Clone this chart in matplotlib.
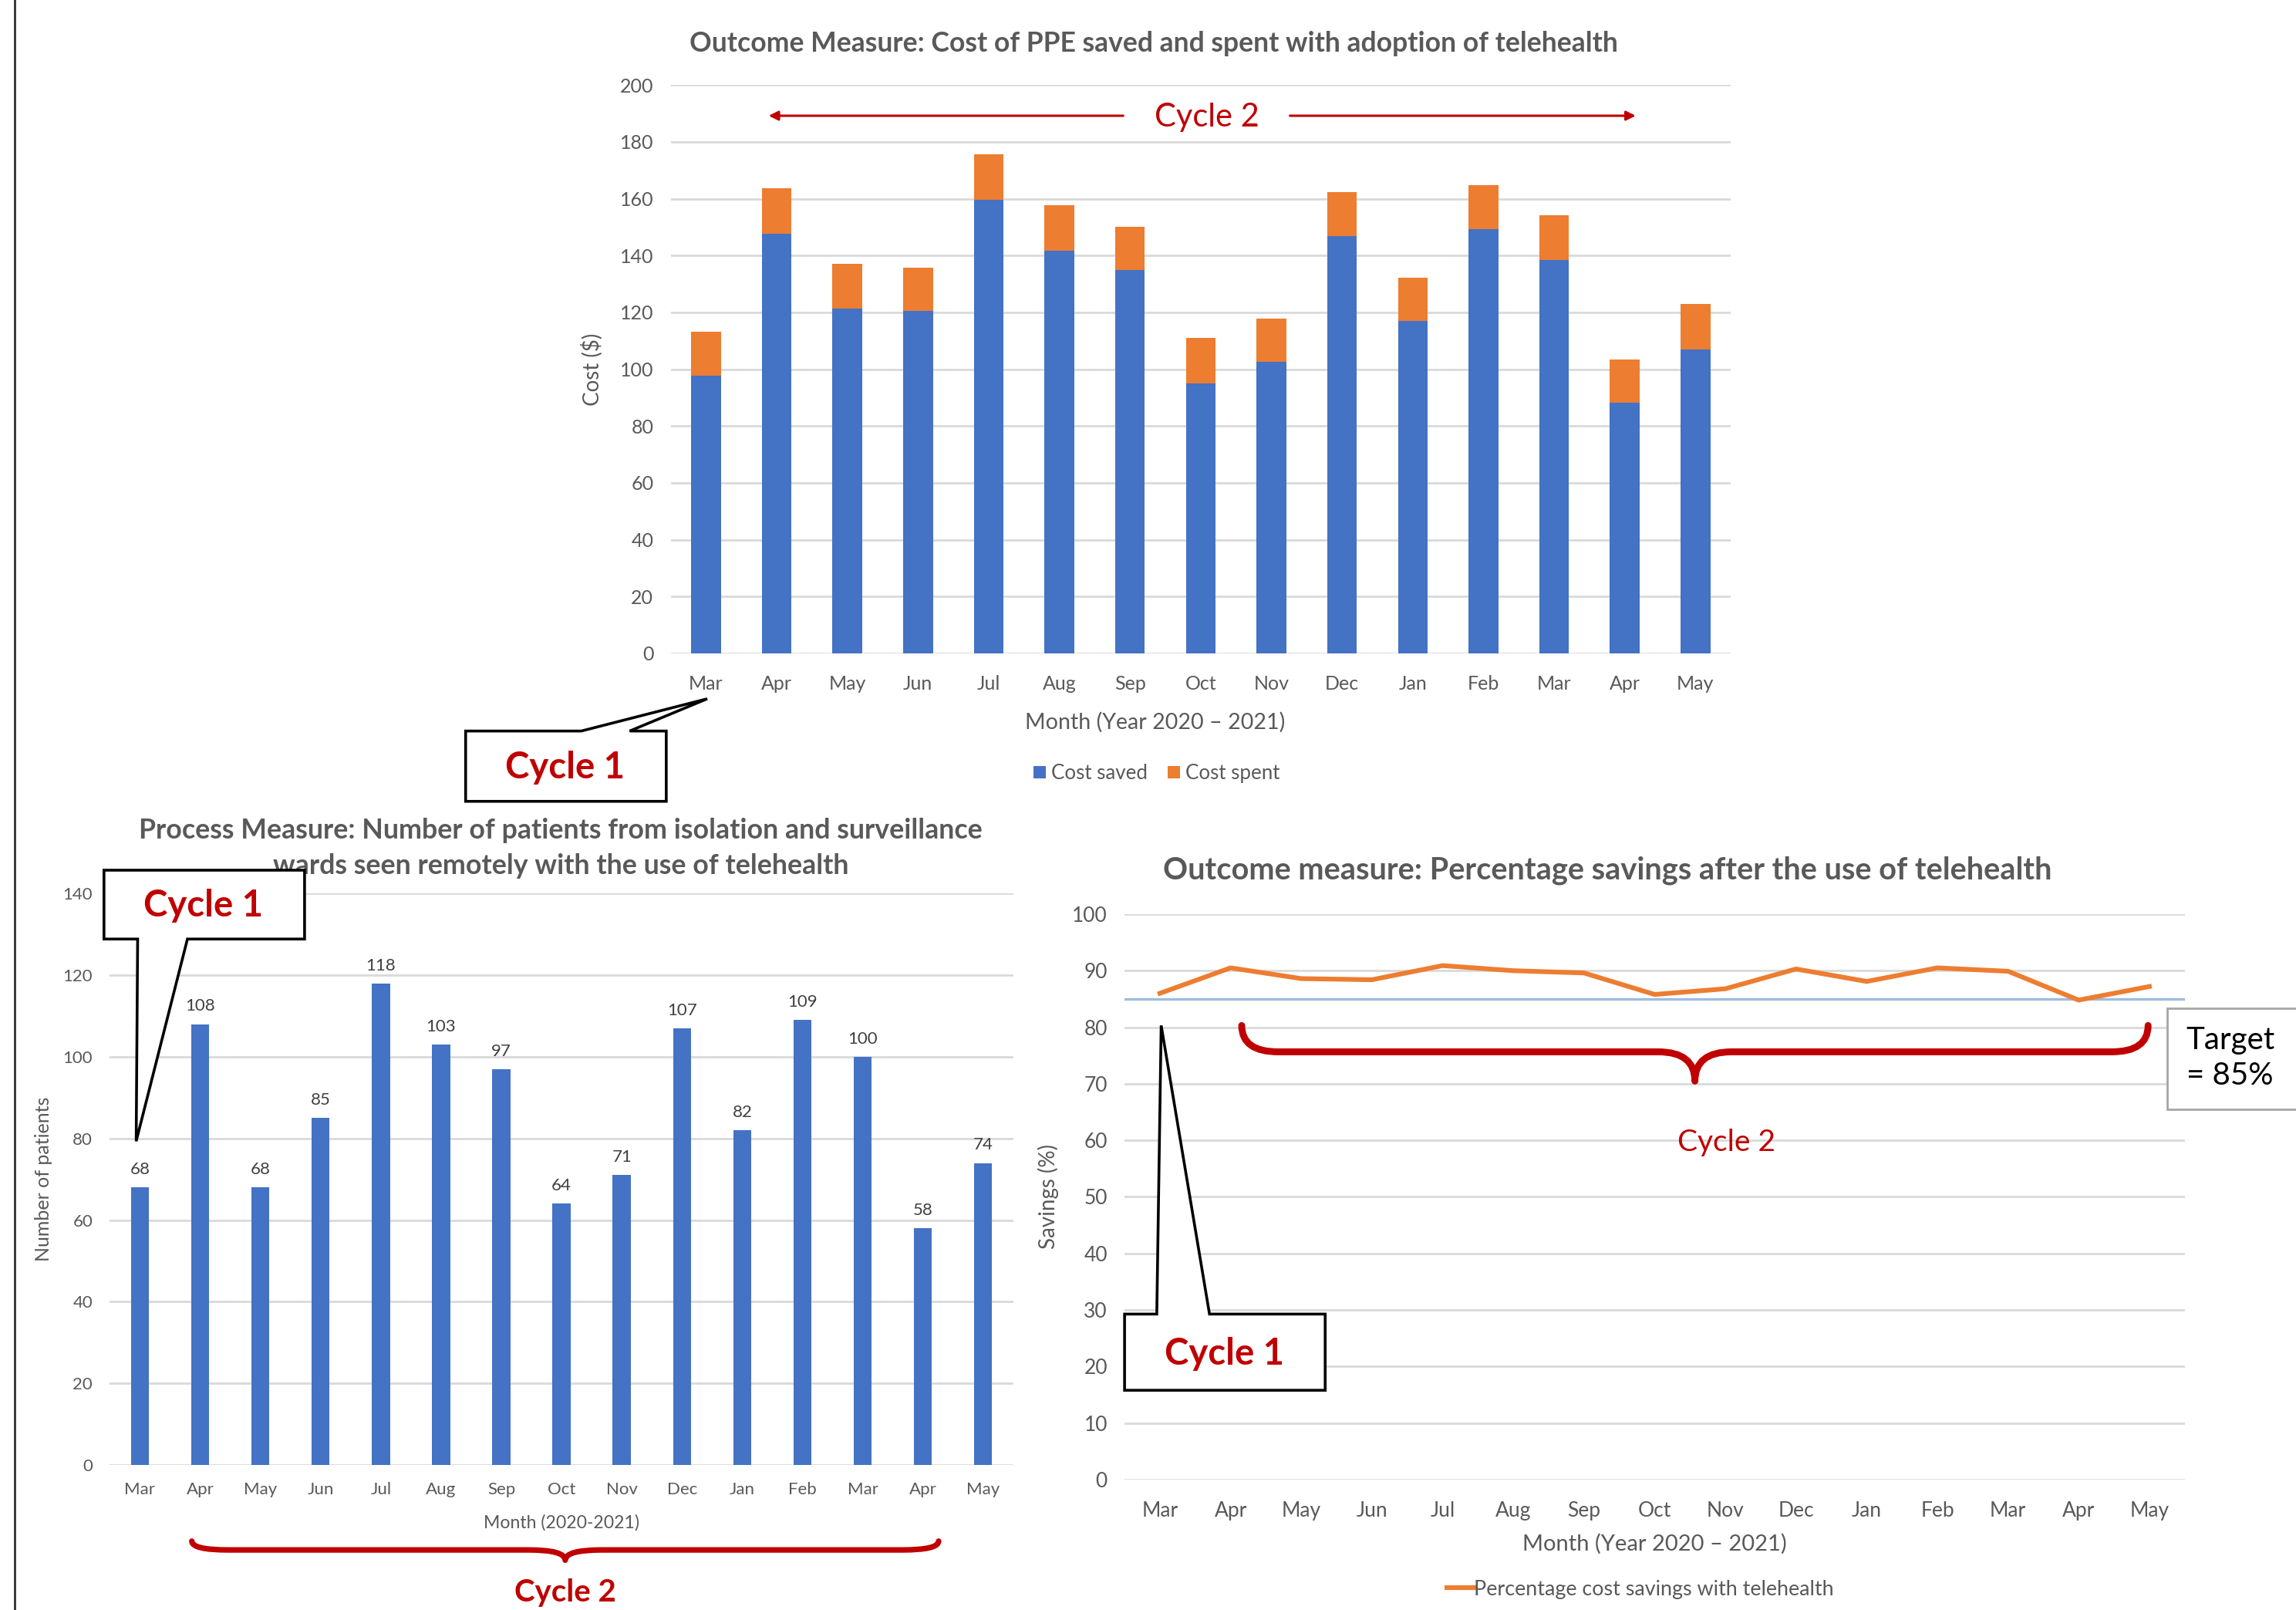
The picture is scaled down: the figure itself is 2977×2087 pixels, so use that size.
import matplotlib
matplotlib.use("Agg")
import matplotlib.pyplot as plt
from matplotlib.path import Path
from matplotlib.patches import PathPatch, Polygon, Rectangle
import numpy as np

plt.rcParams['font.family'] = ['Lato', 'DejaVu Sans']

months = ["Mar", "Apr", "May", "Jun", "Jul", "Aug", "Sep", "Oct", "Nov", "Dec",
          "Jan", "Feb", "Mar", "Apr", "May"]
cost_saved = [97.6, 147.7, 121.3, 120.5, 159.7, 141.8, 134.8, 95.1, 102.5, 146.8,
              117.0, 149.3, 138.4, 88.1, 107.0]
cost_spent = [15.7, 15.9, 15.9, 15.3, 15.8, 15.9, 15.4, 15.8, 15.4, 15.4,
              15.3, 15.4, 15.8, 15.3, 15.9]
patients = [68, 108, 68, 85, 118, 103, 97, 64, 71, 107, 82, 109, 100, 58, 74]
pct_savings = [86.0, 90.5, 88.6, 88.4, 90.9, 90.0, 89.6, 85.8, 86.8, 90.3,
               88.1, 90.5, 89.9, 84.8, 87.2]
target = 85

BLUE = "#4472C4"
ORANGE = "#ED7D31"
GRAY = "#595959"
GRID = "#D9D9D9"
RED = "#C00000"

W, H = 1568.0, 1099.0
fig = plt.figure(figsize=(14.885, 10.435), dpi=200)


def rect(l, r, t, b):
    return [l / W, 1 - b / H, (r - l) / W, (b - t) / H]


def style(ax, ymax, step, tsize):
    for s in ax.spines.values():
        s.set_visible(False)
    ax.set_ylim(0, ymax)
    ax.set_yticks(np.arange(0, ymax + 0.1, step))
    ax.set_xlim(-0.5, len(months) - 0.5)
    ax.set_xticks(range(len(months)))
    ax.set_xticklabels(months)
    ax.grid(axis='y', color=GRID, lw=1.0)
    ax.set_axisbelow(True)
    ax.tick_params(length=0, labelsize=tsize, colors=GRAY, pad=8)


x = np.arange(len(months))

# ---- Top chart ----
ax1 = fig.add_axes(rect(458, 1182, 58, 446))
style(ax1, 200, 20, 9)
ax1.tick_params(axis='x', pad=10)
ax1.bar(x, cost_saved, width=0.42, color=BLUE, label="Cost saved")
ax1.bar(x, cost_spent, width=0.42, bottom=cost_saved, color=ORANGE, label="Cost spent")
fig.text(788 / W, 1 - 30 / H,
         "Outcome Measure: Cost of PPE saved and spent with adoption of telehealth",
         ha='center', va='center', fontsize=12.8, fontweight='bold', color=GRAY)
fig.text(789 / W, 1 - 493 / H, "Month (Year 2020 \u2013 2021)", ha='center', va='center',
         fontsize=10.3, color=GRAY)
ax1.set_ylabel("Cost ($)", fontsize=10, color=GRAY, labelpad=8)
ax1.legend(loc='center', bbox_to_anchor=(790 / W, 1 - 528 / H), bbox_transform=fig.transFigure,
           ncol=2, frameon=False, fontsize=9.3, handlelength=0.6, handleheight=0.6,
           handletextpad=0.3, columnspacing=1.0, labelcolor=GRAY)

# ---- Bottom left chart ----
ax2 = fig.add_axes(rect(75, 692, 610, 1000))
style(ax2, 140, 20, 8)
ax2.bar(x, patients, width=0.3, color=BLUE)
for xi, v in zip(x, patients):
    ax2.text(xi, v + 2.5, str(v), ha='center', va='bottom', fontsize=8, color="#404040")
ax2.set_xlabel("Month (2020-2021)", fontsize=8.3, color=GRAY, labelpad=8)
ax2.set_ylabel("Number of patients", fontsize=9, color=GRAY, labelpad=5)
fig.text(383 / W, 1 - 579 / H,
         "Process Measure: Number of patients from isolation and surveillance\nwards seen remotely with the use of telehealth",
         ha='center', va='center', fontsize=12.9, fontweight='bold', color=GRAY, linespacing=1.45)

# ---- Bottom right chart ----
ax3 = fig.add_axes(rect(768, 1492, 624, 1010))
style(ax3, 100, 10, 9.5)
ax3.tick_params(axis='x', pad=10)
ax3.axhline(target, color="#9DBCE3", lw=1.2, zorder=2)
ax3.plot(x, pct_savings, color=ORANGE, lw=2.2, label="Percentage cost savings with telehealth", zorder=3)
fig.text(1098 / W, 1 - 594 / H,
         "Outcome measure: Percentage savings after the use of telehealth",
         ha='center', va='center', fontsize=14.3, fontweight='bold', color=GRAY)
ax3.set_xlabel("Month (Year 2020 \u2013 2021)", fontsize=10.5, color=GRAY, labelpad=6)
ax3.set_ylabel("Savings (%)", fontsize=10, color=GRAY, labelpad=6)
ax3.legend(loc='center', bbox_to_anchor=(1120 / W, 1 - 1085 / H), bbox_transform=fig.transFigure,
           frameon=False, fontsize=9.7, handlelength=1.3, handletextpad=0.0, labelcolor=GRAY)

# ---- Overlay annotations ----
ov = fig.add_axes([0, 0, 1, 1], zorder=10)
ov.set_xlim(0, W)
ov.set_ylim(H, 0)
ov.axis('off')
ov.patch.set_alpha(0)

# left border line
ov.plot([10, 10], [0, H], color='#303030', lw=1.0)

# top Cycle 2 double arrow
ov.annotate("", xy=(522, 79), xytext=(770, 79),
            arrowprops=dict(arrowstyle='-|>', color=RED, lw=1.1, mutation_scale=9))
ov.annotate("", xy=(1120, 79), xytext=(878, 79),
            arrowprops=dict(arrowstyle='-|>', color=RED, lw=1.1, mutation_scale=9))
ov.text(824, 80, "Cycle 2", ha='center', va='center', fontsize=15, color=RED)


def callout(pts, cx, cy):
    ov.add_patch(Polygon(pts, closed=True, facecolor='white', edgecolor='black', lw=1.3, zorder=5))
    ov.text(cx, cy, "Cycle 1", ha='center', va='center', fontsize=17, fontweight='bold',
            color=RED, zorder=6)


callout([(318, 499), (397, 499), (483, 477), (430, 499), (455, 499), (455, 547), (318, 547)], 386, 524)
callout([(71, 594), (208, 594), (208, 641), (128, 641), (93, 779), (94, 641), (71, 641)], 139, 618)
callout([(768, 897), (790, 897), (793, 700), (826, 897), (905, 897), (905, 949), (768, 949)], 836, 924)


def brace(x0, x1, yend, ymid, ytip, lw):
    xc = (x0 + x1) / 2.0
    d = 25
    verts = [(x0, yend), (x0, ymid), (x0 + d, ymid),
             (xc - d, ymid), (xc, ymid), (xc, ytip),
             (xc, ymid), (xc + d, ymid),
             (x1 - d, ymid), (x1, ymid), (x1, yend)]
    codes = [Path.MOVETO, Path.CURVE3, Path.CURVE3,
             Path.LINETO, Path.CURVE3, Path.CURVE3,
             Path.CURVE3, Path.CURVE3,
             Path.LINETO, Path.CURVE3, Path.CURVE3]
    ov.add_patch(PathPatch(Path(verts, codes), facecolor='none', edgecolor=RED, lw=lw,
                           capstyle='round', joinstyle='round'))


brace(131, 641, 1052, 1058, 1065, 2.6)
ov.text(386, 1087, "Cycle 2", ha='center', va='center', fontsize=14.5, fontweight='bold', color=RED)

brace(848, 1467, 700, 718, 738, 3.2)
ov.text(1179, 780, "Cycle 2", ha='center', va='center', fontsize=14, color=RED)

# target box
ov.add_patch(Rectangle((1480, 688), 100, 69, facecolor='white', edgecolor='#A6A6A6', lw=1.0, zorder=5))
ov.text(1493, 722, "Target\n= 85%", ha='left', va='center', fontsize=14.5, color='black',
        linespacing=1.3, zorder=6)

fig.savefig("out.png", dpi=200)
